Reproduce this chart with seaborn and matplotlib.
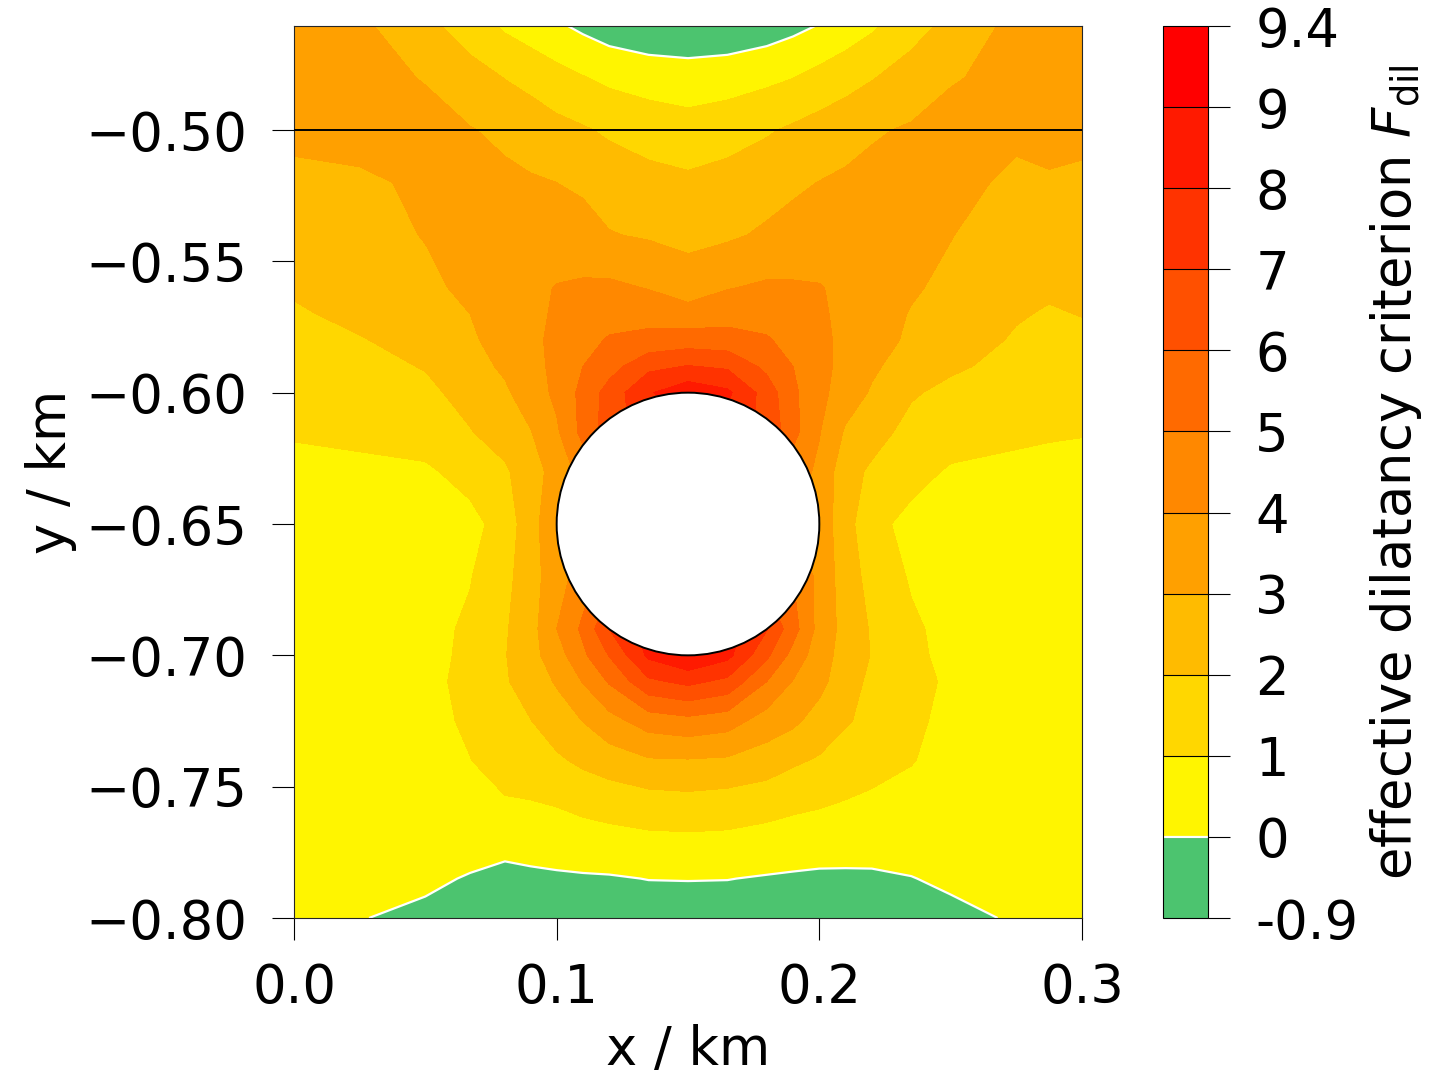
import numpy as np
import matplotlib
matplotlib.use("Agg")
import matplotlib.pyplot as plt
from matplotlib.patches import Circle
import seaborn as sns

# grid of the field (km), rows go bottom to top
x_km = [0.0, 0.025, 0.05, 0.067, 0.0803, 0.09, 0.10, 0.11, 0.12, 0.135, 0.15,
        0.165, 0.18, 0.19, 0.20, 0.21, 0.22, 0.235, 0.25, 0.275, 0.2875, 0.30]
y_km = [-0.80, -0.785, -0.77, -0.755, -0.74, -0.725, -0.71, -0.70, -0.69, -0.67,
        -0.65, -0.63, -0.615, -0.60, -0.59, -0.58, -0.57, -0.56, -0.54, -0.52,
        -0.50, -0.48, -0.4604]

# values (inside the opening they only have to join up)
fdil = [
    [.30, .05, -.30, -.60, -.75, -.75, -.70, -.65, -.60, -.50, -.45, -.50, -.60, -.65, -.70, -.75, -.80, -.60, -.25, .10, .20, .30],
    [.60, .45, .25, -.10, -.35, -.25, -.15, -.10, -.08, .02, .03, .02, -.07, -.12, -.17, -.18, -.17, -.03, .17, .50, .55, .60],
    [.70, .65, .60, .60, .45, .55, .55, .60, .70, .80, .83, .80, .65, .55, .50, .50, .50, .45, .50, .65, .68, .70],
    [.50, .55, .60, .75, .95, 1.0, 1.10, 1.32, 1.45, 1.66, 1.75, 1.64, 1.47, 1.28, 1.15, 1.0, .90, .70, .60, .55, .55, .55],
    [.55, .60, .70, .98, 1.40, 1.65, 1.85, 2.20, 2.52, 2.90, 2.94, 2.86, 2.53, 2.15, 1.90, 1.57, 1.25, 1.05, .65, .60, .60, .60],
    [.60, .65, .70, 1.15, 1.70, 1.97, 2.50, 3.02, 3.65, 4.45, 4.70, 4.43, 3.55, 3.20, 2.60, 2.10, 1.72, 1.23, .70, .60, .60, .60],
    [.60, .70, .75, 1.25, 1.90, 2.45, 3.10, 4.05, 5.10, 6.80, 7.25, 6.75, 5.0, 3.95, 3.30, 2.40, 1.80, 1.30, .85, .60, .60, .60],
    [.60, .70, .70, 1.20, 1.95, 2.65, 3.55, 4.80, 6.05, 8.20, 9.0, 8.30, 6.20, 4.65, 3.45, 2.60, 1.95, 1.25, .70, .60, .60, .60],
    [.60, .70, .70, 1.15, 1.90, 2.60, 4.0, 5.20, 7.0, 8.50, 9.0, 8.50, 7.05, 5.40, 3.65, 2.65, 1.90, 1.15, .72, .60, .60, .60],
    [.60, .65, .75, .95, 1.70, 2.60, 3.55, 4.50, 5.50, 6.0, 6.0, 6.0, 5.50, 5.0, 3.70, 2.50, 1.65, .90, .72, .60, .60, .60],
    [.60, .65, .70, .70, 1.40, 2.65, 3.70, 4.0, 4.50, 5.0, 5.0, 5.0, 4.50, 4.0, 3.60, 2.40, 1.25, .75, .70, .60, .60, .60],
    [.85, .80, .85, 1.35, 1.85, 2.60, 3.35, 4.40, 5.50, 6.0, 6.0, 6.0, 5.50, 4.50, 3.80, 2.35, 1.85, 1.30, .90, .75, .72, .70],
    [1.05, 1.20, 1.45, 1.95, 2.45, 2.95, 3.85, 5.30, 6.50, 7.50, 7.50, 7.50, 6.80, 5.30, 4.05, 2.88, 2.36, 1.70, 1.40, 1.20, 1.10, 1.05],
    [1.34, 1.49, 1.79, 2.32, 2.85, 3.50, 4.20, 5.30, 6.40, 7.90, 8.70, 8.20, 6.55, 5.20, 4.28, 3.50, 2.90, 2.10, 1.76, 1.42, 1.35, 1.39],
    [1.52, 1.71, 2.05, 2.65, 3.15, 3.65, 4.25, 5.0, 5.60, 6.75, 7.05, 6.85, 5.75, 5.0, 4.30, 3.70, 3.15, 2.55, 2.15, 1.70, 1.54, 1.60],
    [1.72, 1.95, 2.30, 2.85, 3.40, 3.80, 4.20, 4.65, 5.10, 5.30, 5.50, 5.40, 5.10, 4.65, 4.20, 3.80, 3.35, 2.85, 2.45, 1.90, 1.73, 1.80],
    [1.90, 2.20, 2.70, 3.0, 3.45, 3.80, 4.10, 4.40, 4.60, 4.63, 4.35, 4.60, 4.60, 4.45, 4.15, 3.75, 3.40, 2.95, 2.65, 2.08, 1.92, 2.03],
    [2.10, 2.45, 2.85, 3.15, 3.50, 3.75, 4.05, 4.15, 4.20, 3.95, 3.55, 3.95, 4.15, 4.12, 4.05, 3.80, 3.60, 3.10, 2.80, 2.22, 2.13, 2.20],
    [2.45, 2.75, 3.03, 3.25, 3.45, 3.50, 3.40, 3.35, 3.05, 2.90, 2.70, 2.85, 3.15, 3.30, 3.45, 3.50, 3.50, 3.35, 3.03, 2.52, 2.55, 2.52],
    [2.80, 2.85, 3.15, 3.30, 3.20, 3.10, 3.0, 2.85, 2.57, 2.30, 2.18, 2.35, 2.60, 2.85, 3.02, 3.15, 3.25, 3.30, 3.30, 2.80, 2.90, 2.85],
    [3.20, 3.35, 3.30, 3.05, 2.80, 2.56, 2.30, 2.10, 1.85, 1.60, 1.40, 1.60, 1.90, 2.15, 2.40, 2.65, 2.90, 3.10, 3.30, 3.20, 3.30, 3.20],
    [3.55, 3.30, 2.95, 2.40, 1.97, 1.70, 1.35, 1.05, .78, .55, .45, .55, .78, .98, 1.30, 1.60, 1.94, 2.45, 2.93, 3.25, 3.40, 3.50],
    [3.80, 3.20, 2.30, 1.50, .85, .50, .15, -.20, -.50, -.70, -.75, -.70, -.50, -.25, .05, .45, .85, 1.60, 2.30, 3.30, 3.60, 3.80],
]

levels = [-0.9, 0, 1, 2, 3, 4, 5, 6, 7, 8, 9, 9.4]
level_labels = ["-0.9", "0", "1", "2", "3", "4", "5", "6", "7", "8", "9", "9.4"]
band_colors = ["#4CC46F", "#FFF500", "#FFD700", "#FFBB00", "#FFA000", "#FF8800",
               "#FF6A00", "#FF5000", "#FF3300", "#FF1A00", "#FF0000"]
x_ticks = [0.0, 0.1, 0.2, 0.3]
y_ticks = [-0.80, -0.75, -0.70, -0.65, -0.60, -0.55, -0.50]

sns.set_theme(style="ticks", font="DejaVu Sans", rc={"axes.linewidth": 0.8})
W, H = 1447, 1080
FS = 38

fig = plt.figure(figsize=(W / 100, H / 100), dpi=100)
ax = fig.add_axes([294 / W, (H - 918) / H, 788 / W, 892 / H])
cax = fig.add_axes([1163 / W, (H - 918) / H, 45 / W, 892 / H])

cs = ax.contourf(x_km, y_km, np.array(fdil), levels=levels,
                 colors=sns.color_palette(band_colors))
zero_line = ax.contour(x_km, y_km, np.array(fdil), levels=[0], colors="white", linewidths=1.6)

# opening and the marker line
ax.add_patch(Circle((0.15, -0.65), 0.05, facecolor="white", edgecolor="black", lw=1.4, zorder=5))
ax.axhline(-0.50, color="black", lw=1.4, zorder=4)

ax.set_xlim(0, 0.3)
ax.set_ylim(-0.80, -0.4604)
ax.set_xticks(x_ticks)
ax.set_xticklabels([f"{v:.1f}" for v in x_ticks])
ax.set_yticks(y_ticks)
ax.set_yticklabels([f"\u2212{abs(v):.2f}" for v in y_ticks])
ax.tick_params(axis="x", length=16, width=0.8, labelsize=FS, pad=16, color="black", labelcolor="black")
ax.tick_params(axis="y", length=16, width=0.8, labelsize=FS, pad=18, color="black", labelcolor="black")
ax.set_xlabel("x / km", fontsize=FS, labelpad=7, color="black")
ax.set_ylabel("y / km", fontsize=FS, labelpad=6, color="black")

cbar = fig.colorbar(cs, cax=cax, spacing="uniform", ticks=levels, drawedges=True)
cbar.add_lines(zero_line)
cbar.dividers.set_color("black")
cbar.dividers.set_linewidth(0.8)
cbar.outline.set_edgecolor("black")
cbar.outline.set_linewidth(0.8)
cbar.set_ticklabels(level_labels)
cbar.minorticks_off()
cax.tick_params(length=16, width=0.8, labelsize=FS, pad=18, color="black", labelcolor="black")
cbar.set_label(r"effective dilatancy criterion $F_{\mathrm{dil}}$", fontsize=FS, labelpad=7, color="black")

fig.savefig("out.png", dpi=100)
plt.close(fig)
